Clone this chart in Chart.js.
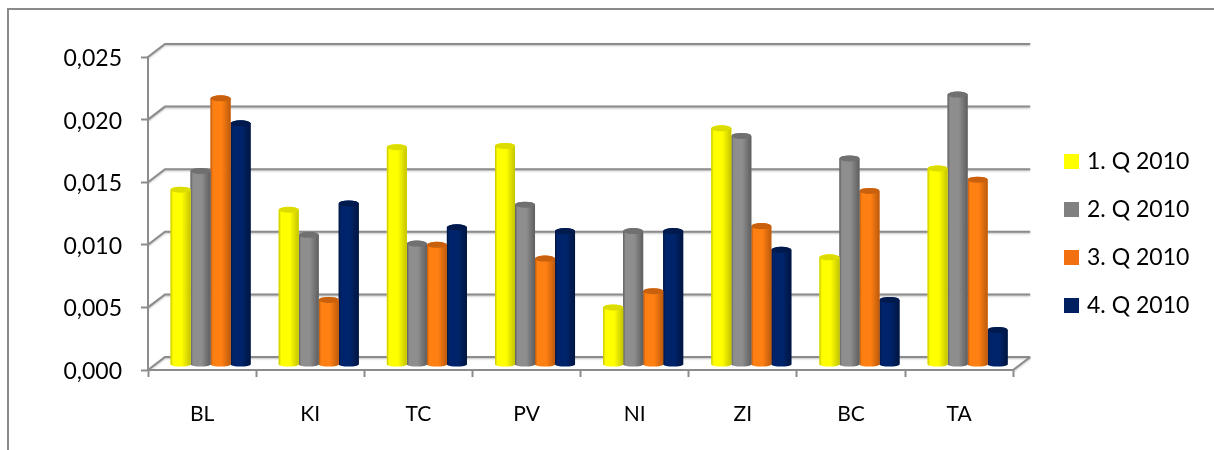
<!DOCTYPE html>
<html>
<head>
<meta charset="utf-8">
<style>html,body{margin:0;padding:0;background:#fff}canvas{display:block}#w{width:1214px;height:450px;position:relative}</style>
<script src="https://cdn.jsdelivr.net/npm/chart.js@4"></script>
</head>
<body>
<div id="w"><canvas id="c" width="1214" height="450"></canvas></div>
<script>
const categories = ['BL','KI','TC','PV','NI','ZI','BC','TA'];
const q1 = [0.0140,0.0124,0.0174,0.0175,0.0046,0.0189,0.0086,0.0157];
const q2 = [0.0155,0.0104,0.0097,0.0128,0.0107,0.0183,0.0165,0.0216];
const q3 = [0.0213,0.0052,0.0096,0.0085,0.0059,0.0111,0.0139,0.0148];
const q4 = [0.0193,0.0129,0.0110,0.0107,0.0107,0.0092,0.0052,0.0028];
const seriesNames = ['1. Q 2010','2. Q 2010','3. Q 2010','4. Q 2010'];
const legendColors = ['#FFFF00','#808080','#F2700F','#002060'];
const shades = [
  {edge:'#C4C400',mid:'#FFFF00',cap:'#DCDC00'},
  {edge:'#5E5E5E',mid:'#8E8E8E',cap:'#707070'},
  {edge:'#BC5A0C',mid:'#FF8012',cap:'#C9600E'},
  {edge:'#00153F',mid:'#00246C',cap:'#001A4E'}
];
const depthX = 17, depthY = 13, barDX = 8.5, barDY = 5;
const axisColor = '#8C8C8C';
const font = 'Lato';

const wall = {
  id:'wall',
  beforeDraw(chart){
    const {ctx, scales:{y}, chartArea:a} = chart;
    ctx.save();
    ctx.strokeStyle = '#8A8A8A'; ctx.lineWidth = 2;
    ctx.beginPath(); ctx.moveTo(8,450); ctx.lineTo(8,9); ctx.lineTo(1214,9); ctx.stroke();
    ctx.strokeStyle = axisColor; ctx.lineWidth = 2;
    ctx.shadowColor='rgba(0,0,0,0.25)'; ctx.shadowBlur=2; ctx.shadowOffsetY=1;
    y.ticks.forEach(t=>{
      const py = y.getPixelForValue(t.value);
      ctx.beginPath();
      ctx.moveTo(a.left,py);
      ctx.lineTo(a.left+depthX,py-depthY);
      ctx.lineTo(a.right+depthX,py-depthY);
      ctx.stroke();
    });
    ctx.beginPath();
    ctx.moveTo(a.right,a.bottom); ctx.lineTo(a.right+depthX,a.bottom-depthY); ctx.stroke();
    ctx.restore();
  },
  beforeDatasetsDraw(chart){
    chart.ctx.save();
    chart.ctx.translate(barDX,-barDY);
  },
  afterDatasetDraw(chart,args){
    const {ctx} = chart;
    const s = shades[args.index];
    args.meta.data.forEach(el=>{
      const w = el.width, l = el.x-w/2, r = el.x+w/2, ry = 3;
      const g = ctx.createLinearGradient(l,0,r,0);
      g.addColorStop(0,s.edge); g.addColorStop(0.12,s.mid); g.addColorStop(0.55,s.mid); g.addColorStop(1,s.edge);
      ctx.fillStyle = g;
      ctx.beginPath();
      ctx.moveTo(l,el.y);
      ctx.lineTo(l,el.base);
      ctx.ellipse(el.x,el.base,w/2,2,0,Math.PI,0,true);
      ctx.lineTo(r,el.y);
      ctx.ellipse(el.x,el.y,w/2,ry,0,0,Math.PI,true);
      ctx.closePath();
      ctx.fill();
      ctx.fillStyle = s.cap;
      ctx.beginPath();
      ctx.ellipse(el.x,el.y,w/2,ry,0,0,Math.PI*2);
      ctx.fill();
    });
  },
  afterDatasetsDraw(chart){ chart.ctx.restore(); },
  afterLayout(chart){
    const lg = chart.legend, h = lg.bottom-lg.top, w = lg.right-lg.left;
    lg.left = 1067.5-25; lg.right = lg.left+w;
    lg.top = 125; lg.bottom = lg.top+h;
  }
};

new Chart(document.getElementById('c'),{
  type:'bar',
  data:{
    labels:categories,
    datasets:[q1,q2,q3,q4].map((d,i)=>({
      label:seriesNames[i], data:d,
      backgroundColor:legendColors[i], borderWidth:0,
      categoryPercentage:0.74, barPercentage:1
    }))
  },
  plugins:[wall],
  options:{
    responsive:false, animation:false,
    layout:{padding:{top:57,right:44,left:0,bottom:0}},
    plugins:{
      tooltip:{enabled:false},
      legend:{position:'right',align:'start',labels:{boxWidth:8,boxHeight:8,padding:25,color:'#000',font:{family:font,size:23},
        generateLabels(chart){
          return Chart.defaults.plugins.legend.labels.generateLabels(chart).map(it=>{
            it.lineWidth=7; it.strokeStyle=it.fillStyle; return it;
          });
        }}}
    },
    scales:{
      x:{
        afterFit(s){s.height=80},
        grid:{offset:true,drawOnChartArea:false,drawTicks:true,tickLength:7,tickColor:axisColor,tickWidth:2},
        border:{color:axisColor,width:2},
        ticks:{color:'#000',padding:25,maxRotation:0,font:{family:font,size:21}}
      },
      y:{
        min:0,max:0.025,
        afterFit(s){s.width=148},
        grid:{drawOnChartArea:false,tickLength:7,tickColor:axisColor,tickWidth:2},
        border:{color:axisColor,width:2},
        ticks:{stepSize:0.005,color:'#000',padding:19,labelOffset:1.5,font:{family:font,size:23},
          callback:v=>v.toFixed(3).replace('.',',')}
      }
    }
  }
});
</script>
</body>
</html>
